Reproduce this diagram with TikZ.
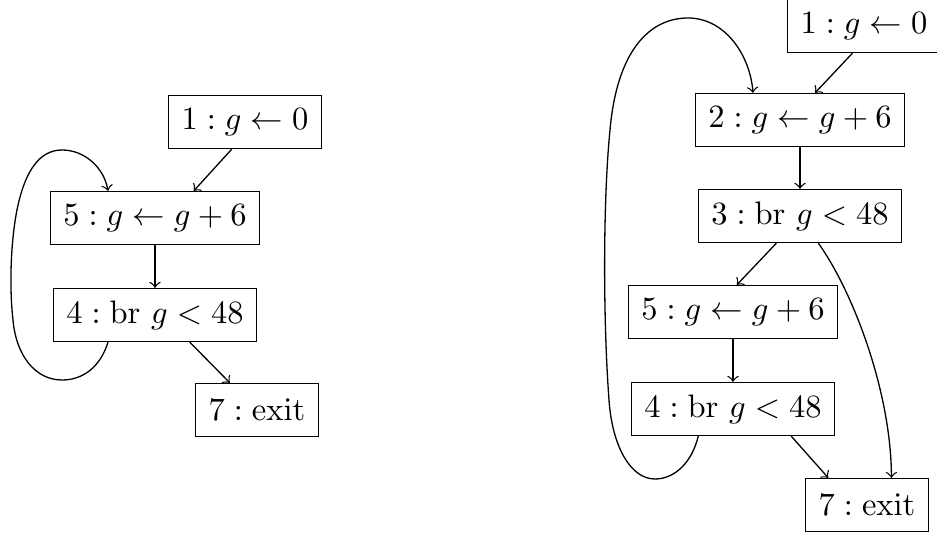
\documentclass[tikz,border=0pt]{standalone}
\usepackage{amsmath}

\tikzset{
  blk/.style={draw, minimum height=16.3pt, inner xsep=4pt},
  edge/.style={->, >=to}
}

\begin{document}
\begin{tikzpicture}[x=0.3077pt,y=0.3077pt,yscale=-1,xscale=1]
    \useasboundingbox (0,0) rectangle (937,535);

    % Left graph
    \node [blk] (l1) at (245,122) {$1:g\leftarrow 0$};
    \node [blk] (l5) at (155,218) {$5:g\leftarrow g+6$};
    \node [blk] (l4) at (155,315) {$4:\mathrm{br}\ g<48$};
    \node [blk] (l7) at (257,410) {$7:\mathrm{exit}$};

    \draw [edge] (l1.-116) -- (l5.35);
    \draw [edge] (l5) -- (l4);
    \draw [edge] (l4.-38) -- (l7.135);
    %back edge
    \draw [edge] (l4.-150) .. controls (100,368) and (82,380) .. (62,380)
        .. controls (35,380) and (16,355) .. (13,320)
        .. controls (9,285) and (11,240) .. (17,210)
        .. controls (25,170) and (40,150) .. (62,150)
        .. controls (85,150) and (104,168) .. (l5.150);

    % Right graph
    \node [blk] (r1) at (864,26) {$1:g\leftarrow 0$};
    \node [blk] (r2) at (800,120) {$2:g\leftarrow g+6$};
    \node [blk] (r3) at (800,216) {$3:\mathrm{br}\ g<48$};
    \node [blk] (r5) at (733,312) {$5:g\leftarrow g+6$};
    \node [blk] (r4) at (733,409) {$4:\mathrm{br}\ g<48$};
    \node [blk] (r7) at (867,505) {$7:\mathrm{exit}$};

    \draw [edge] (r1.-113) -- (r2.61);
    \draw [edge] (r2) -- (r3);
    \draw [edge] (r3.-131) -- (r5.82);
    \draw [edge] (r5) -- (r4);
    \draw [edge] (r4.-25) -- (r7.145);
    \draw [edge] (r3.-56) .. controls (852,290) and (891,390) .. (r7.48);
    %back edge
    \draw [edge] (r4.-142) .. controls (692,462) and (675,479) .. (655,479)
        .. controls (630,479) and (612,445) .. (609,400)
        .. controls (603,320) and (603,200) .. (610,130)
        .. controls (617,50) and (650,18) .. (688,18)
        .. controls (725,18) and (750,55) .. (r2.150);

\end{tikzpicture}
\end{document}
